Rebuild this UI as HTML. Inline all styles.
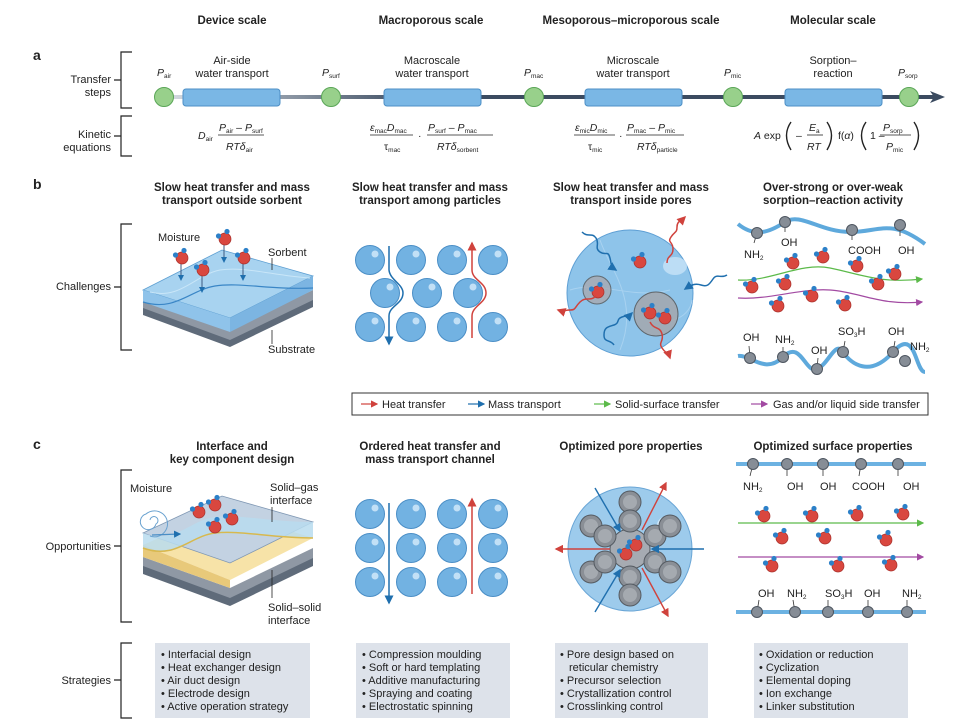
<!DOCTYPE html>
<html><head><meta charset="utf-8"><style>
html,body{margin:0;padding:0;background:#fff}
svg{display:block}
text{font-family:"Liberation Sans",sans-serif;fill:#222}
.h{font-weight:bold;font-size:11.5px;text-anchor:middle}
.l{font-size:11px}
.m{font-size:11px;text-anchor:middle}
.e{font-size:10.5px;font-style:italic}
.s{font-size:6.5px;font-style:normal}
.st{font-size:11px}
</style></head><body>
<svg width="957" height="724" viewBox="0 0 957 724" xmlns="http://www.w3.org/2000/svg">
<defs>
<linearGradient id="lg" x1="155" x2="420" y1="0" y2="0" gradientUnits="userSpaceOnUse"><stop offset="0" stop-color="#dde2e8"/><stop offset="1" stop-color="#3b4b60"/></linearGradient>
<g id="w"><circle r="6" fill="#d9473f" stroke="#a8302b" stroke-width="0.7"/><circle cx="-6.5" cy="-3" r="2.6" fill="#2c80c8"/><circle cx="2" cy="-7.5" r="2.6" fill="#2c80c8"/></g>
<g id="p"><circle r="14.5" fill="#72b2e2" stroke="#4a8ec6"/><circle cx="5" cy="-6" r="3.5" fill="#c2e0f6"/></g>
<g id="po"><circle r="11" fill="#8a8f96" stroke="#555b62"/><circle r="7" fill="#a5aab0"/></g>
<g id="n"><circle r="5.5" fill="#868d96" stroke="#4e5660"/></g>
<marker id="ar" markerWidth="6" markerHeight="6" refX="5" refY="3" orient="auto"><path d="M0,0 L6,3 L0,6 z" fill="#d0423c"/></marker>
<marker id="ab" markerWidth="6" markerHeight="6" refX="5" refY="3" orient="auto"><path d="M0,0 L6,3 L0,6 z" fill="#1f6fae"/></marker>
<marker id="ag" markerWidth="6" markerHeight="6" refX="5" refY="3" orient="auto"><path d="M0,0 L6,3 L0,6 z" fill="#5cba4a"/></marker>
<marker id="ap" markerWidth="6" markerHeight="6" refX="5" refY="3" orient="auto"><path d="M0,0 L6,3 L0,6 z" fill="#a24aa2"/></marker>
</defs>

<text class="h" x="232" y="24">Device scale</text>
<text class="h" x="431" y="24">Macroporous scale</text>
<text class="h" x="631" y="24">Mesoporous–microporous scale</text>
<text class="h" x="833" y="24">Molecular scale</text>

<text x="33" y="60" font-weight="bold" font-size="14">a</text>
<text x="33" y="189" font-weight="bold" font-size="14">b</text>
<text x="33" y="449" font-weight="bold" font-size="14">c</text>

<g stroke="#222" stroke-width="1.2" fill="none">
<path d="M132,52 H121 V108 H132 M121,80 H114"/>
<path d="M132,116 H121 V156 H132 M121,136 H114"/>
<path d="M132,224 H121 V350 H132 M121,287 H114"/>
<path d="M132,470 H121 V622 H132 M121,546 H114"/>
<path d="M132,643 H121 V718 H132 M121,680 H114"/>
</g>
<g class="l" text-anchor="end">
<text x="111" y="83">Transfer</text><text x="111" y="96">steps</text>
<text x="111" y="138">Kinetic</text><text x="111" y="151">equations</text>
<text x="111" y="290">Challenges</text>
<text x="111" y="550">Opportunities</text>
<text x="111" y="684">Strategies</text>
</g>

<line x1="155" y1="97" x2="934" y2="97" stroke="url(#lg)" stroke-width="4"/>
<path d="M930,91 L945,97 L930,103 L934,97z" fill="#3b4b60"/>
<g fill="#7ab7e5" stroke="#4d8fc6" stroke-width="1">
<rect x="183" y="89" width="97" height="17" rx="3"/>
<rect x="384" y="89" width="97" height="17" rx="3"/>
<rect x="585" y="89" width="97" height="17" rx="3"/>
<rect x="785" y="89" width="97" height="17" rx="3"/>
</g>
<g fill="#98d08b" stroke="#5aa657" stroke-width="1">
<circle cx="164" cy="97" r="9.5"/><circle cx="331" cy="97" r="9.5"/><circle cx="534" cy="97" r="9.5"/><circle cx="733" cy="97" r="9.5"/><circle cx="909" cy="97" r="9.5"/>
</g>
<g class="m">
<text x="232" y="64">Air-side</text><text x="232" y="77">water transport</text>
<text x="432" y="64">Macroscale</text><text x="432" y="77">water transport</text>
<text x="633" y="64">Microscale</text><text x="633" y="77">water transport</text>
<text x="833" y="64">Sorption–</text><text x="833" y="77">reaction</text>
</g>
<g class="e">
<text x="157" y="76">P<tspan class="s" dy="2">air</tspan></text>
<text x="322" y="76">P<tspan class="s" dy="2">surf</tspan></text>
<text x="524" y="76">P<tspan class="s" dy="2">mac</tspan></text>
<text x="724" y="76">P<tspan class="s" dy="2">mic</tspan></text>
<text x="898" y="76">P<tspan class="s" dy="2">sorp</tspan></text>
</g>

<g stroke="#222" stroke-width="0.8">
<line x1="218" y1="135" x2="264" y2="135"/>
<line x1="370" y1="135" x2="413" y2="135"/>
<line x1="427" y1="135" x2="493" y2="135"/>
<line x1="574" y1="135" x2="615" y2="135"/>
<line x1="626" y1="135" x2="684" y2="135"/>
<line x1="807" y1="135" x2="823" y2="135"/>
<line x1="880" y1="135" x2="911" y2="135"/>
</g>
<g fill="none" stroke="#222" stroke-width="1.4">
<path d="M791,122 Q782,135 791,150"/><path d="M827,122 Q836,135 827,150"/>
<path d="M866,122 Q857,135 866,150"/><path d="M914,122 Q923,135 914,150"/>
</g>
<g class="e">
<text x="198" y="139">D<tspan class="s" dy="2">air</tspan></text>
<text x="219" y="131">P<tspan class="s" dy="2">air</tspan><tspan dy="-2" font-style="normal"> – </tspan>P<tspan class="s" dy="2">surf</tspan></text>
<text x="226" y="150">RTδ<tspan class="s" dy="2">air</tspan></text>

<text x="370" y="131">ε<tspan class="s" dy="2">mac</tspan><tspan dy="-2">D</tspan><tspan class="s" dy="2">mac</tspan></text>
<text x="384" y="150" font-style="normal">τ<tspan class="s" dy="2">mac</tspan></text>
<text x="418" y="139" font-style="normal">·</text>
<text x="428" y="131">P<tspan class="s" dy="2">surf</tspan><tspan dy="-2" font-style="normal"> – </tspan>P<tspan class="s" dy="2">mac</tspan></text>
<text x="437" y="150">RTδ<tspan class="s" dy="2">sorbent</tspan></text>

<text x="575" y="131">ε<tspan class="s" dy="2">mic</tspan><tspan dy="-2">D</tspan><tspan class="s" dy="2">mic</tspan></text>
<text x="588" y="150" font-style="normal">τ<tspan class="s" dy="2">mic</tspan></text>
<text x="619" y="139" font-style="normal">·</text>
<text x="627" y="131">P<tspan class="s" dy="2">mac</tspan><tspan dy="-2" font-style="normal"> – </tspan>P<tspan class="s" dy="2">mic</tspan></text>
<text x="637" y="150">RTδ<tspan class="s" dy="2">particle</tspan></text>

<text x="754" y="139" font-style="normal"><tspan font-style="italic">A</tspan> exp</text>
<text x="796" y="139" font-style="normal">–</text>
<text x="809" y="131">E<tspan class="s" dy="2">a</tspan></text>
<text x="807" y="150">RT</text>
<text x="838" y="139" font-style="normal">f(<tspan font-style="italic">α</tspan>)</text>
<text x="870" y="139" font-style="normal">1 –</text>
<text x="883" y="131">P<tspan class="s" dy="2">sorp</tspan></text>
<text x="886" y="150">P<tspan class="s" dy="2">mic</tspan></text>
</g>

<g class="h" font-size="10.5">
<text x="232" y="191">Slow heat transfer and mass</text><text x="232" y="204">transport outside sorbent</text>
<text x="430" y="191">Slow heat transfer and mass</text><text x="430" y="204">transport among particles</text>
<text x="631" y="191">Slow heat transfer and mass</text><text x="631" y="204">transport inside pores</text>
<text x="833" y="191">Over-strong or over-weak</text><text x="833" y="204">sorption–reaction activity</text>
</g>

<polygon points="143,306 230,338 313,298 313,307 230,347 143,315" fill="#5f6b7a"/>
<polygon points="143,300 230,330 313,290 313,300 230,340 143,308" fill="#8f98a4"/>
<polygon points="143,300 222,262 313,288 230,330" fill="#b7bfc9"/>
<polygon points="143,290 222,250 313,276 230,318" fill="#a8d3f0" stroke="#5d9fd2" stroke-width="0.8"/>
<polygon points="143,290 230,318 230,332 143,302" fill="#8fc3ea"/>
<polygon points="230,318 313,276 313,290 230,332" fill="#7cb5e2"/>
<path d="M143,302 C175,312 190,290 215,286 C240,282 270,290 313,288" stroke="#3a86c6" fill="none" stroke-width="1.2"/>
<path d="M150,292 C180,300 195,275 220,270 C245,266 275,276 310,278" stroke="#c9e6f8" fill="none" stroke-width="1"/>
<g stroke="#3b5a80" stroke-width="1" marker-end="url(#ab)">
<line x1="181" y1="262" x2="181" y2="280"/><line x1="202" y1="275" x2="202" y2="292"/><line x1="224" y1="245" x2="224" y2="262"/><line x1="243" y1="264" x2="243" y2="280"/>
</g>
<use href="#w" transform="translate(182,258)"/><use href="#w" transform="translate(203,270)"/><use href="#w" transform="translate(225,239)"/><use href="#w" transform="translate(244,258)"/>
<line x1="272" y1="258" x2="272" y2="270" stroke="#222" stroke-width="0.8"/>
<line x1="272" y1="330" x2="272" y2="344" stroke="#222" stroke-width="0.8"/>
<text class="l" x="158" y="241">Moisture</text>
<text class="l" x="268" y="256">Sorbent</text>
<text class="l" x="268" y="353">Substrate</text>

<use href="#p" transform="translate(370,260)"/><use href="#p" transform="translate(411,260)"/><use href="#p" transform="translate(452,260)"/><use href="#p" transform="translate(493,260)"/>
<use href="#p" transform="translate(385,293)"/><use href="#p" transform="translate(427,293)"/><use href="#p" transform="translate(468,293)"/>
<use href="#p" transform="translate(370,327)"/><use href="#p" transform="translate(411,327)"/><use href="#p" transform="translate(452,327)"/><use href="#p" transform="translate(493,327)"/>
<path d="M389,246 V270 C390,280 403,284 403,293 C403,304 389,306 389,316 V344" stroke="#1f6fae" stroke-width="1.5" fill="none" marker-end="url(#ab)"/>
<path d="M472,338 V316 C472,306 486,303 486,293 C486,282 472,280 472,270 V243" stroke="#d0423c" stroke-width="1.5" fill="none" marker-end="url(#ar)"/>

<circle cx="630" cy="293" r="63" fill="#8ec4ea" stroke="#5e9fd4" stroke-width="1"/>
<ellipse cx="675" cy="266" rx="12" ry="9" fill="#c8e4f7" opacity="0.8"/>
<path d="M570,290 C600,280 630,300 670,290 M600,240 C610,270 640,300 620,350 M640,310 C660,330 690,320 692,300" stroke="#a8d2f0" fill="none"/>
<circle cx="597" cy="290" r="14" fill="#a9a9b0" stroke="#555" opacity="0.8"/>
<circle cx="656" cy="314" r="22" fill="#a4a7ae" stroke="#555" opacity="0.85"/>
<use href="#w" transform="translate(598,292)"/><use href="#w" transform="translate(650,313)"/><use href="#w" transform="translate(665,318)"/><use href="#w" transform="translate(640,262)"/>
<g fill="none" stroke-width="1.5">
<path d="M582,232 c6,6 10,0 14,6 s-2,10 4,14 s8,-2 10,6 s0,8 6,12" stroke="#1f6fae" marker-end="url(#ab)"/>
<path d="M727,275 c-6,4 -10,-2 -14,4 s-6,8 -12,6 s-10,0 -16,4" stroke="#1f6fae" marker-end="url(#ab)"/>
<path d="M614,345 c-4,-6 -10,-2 -10,-10 s4,-8 10,-10 s2,-6 8,-8 s6,0 10,-4" stroke="#1f6fae" marker-end="url(#ab)"/>
<path d="M667,263 c0,-8 6,-6 6,-14 s-6,-6 -2,-12 s6,-4 6,-10 s4,-6 8,-10" stroke="#d0423c" marker-end="url(#ar)"/>
<path d="M596,296 c-6,6 -10,0 -16,6 s-4,8 -10,8 s-6,2 -12,0" stroke="#d0423c" marker-end="url(#ar)"/>
<path d="M650,322 c4,8 10,4 12,12 s-4,8 0,14 s6,4 8,10" stroke="#d0423c" marker-end="url(#ar)"/>
</g>

<path d="M738,224 C755,238 770,232 785,222 S820,232 850,232 S890,218 925,244" stroke="#5ea9dc" stroke-width="4" fill="none"/>
<g stroke="#333" stroke-width="0.8"><line x1="757" y1="233" x2="754" y2="243"/><line x1="785" y1="222" x2="785" y2="232"/><line x1="852" y1="230" x2="852" y2="240"/><line x1="900" y1="225" x2="900" y2="236"/></g>
<use href="#n" transform="translate(757,233)"/><use href="#n" transform="translate(785,222)"/><use href="#n" transform="translate(852,230)"/><use href="#n" transform="translate(900,225)"/>
<g class="l" font-size="10"><text x="744" y="258">NH<tspan class="s" dy="2">2</tspan></text><text x="781" y="246">OH</text><text x="848" y="254">COOH</text><text x="898" y="254">OH</text></g>
<path d="M738,280 C770,282 800,262 830,268 S880,284 922,279" stroke="#5cba4a" stroke-width="1.2" fill="none" marker-end="url(#ag)"/>
<path d="M738,298 C770,300 800,288 830,290 S880,306 922,302" stroke="#a24aa2" stroke-width="1.2" fill="none" marker-end="url(#ap)"/>
<use href="#w" transform="translate(793,263)"/><use href="#w" transform="translate(823,257)"/><use href="#w" transform="translate(857,266)"/><use href="#w" transform="translate(895,274)"/><use href="#w" transform="translate(752,287)"/><use href="#w" transform="translate(785,284)"/><use href="#w" transform="translate(878,284)"/><use href="#w" transform="translate(812,296)"/><use href="#w" transform="translate(778,306)"/><use href="#w" transform="translate(845,305)"/>
<path d="M738,356 C750,354 765,375 783,357 S805,374 817,369 S835,340 843,352 S870,378 893,352 S915,372 925,372" stroke="#5ea9dc" stroke-width="4" fill="none"/>
<g stroke="#333" stroke-width="0.8"><line x1="750" y1="358" x2="749" y2="346"/><line x1="783" y1="357" x2="783" y2="347"/><line x1="817" y1="369" x2="818" y2="358"/><line x1="843" y1="352" x2="845" y2="341"/><line x1="893" y1="352" x2="895" y2="341"/></g>
<use href="#n" transform="translate(750,358)"/><use href="#n" transform="translate(783,357)"/><use href="#n" transform="translate(817,369)"/><use href="#n" transform="translate(843,352)"/><use href="#n" transform="translate(893,352)"/><use href="#n" transform="translate(905,361)"/>
<g class="l" font-size="10"><text x="743" y="341">OH</text><text x="775" y="343">NH<tspan class="s" dy="2">2</tspan></text><text x="811" y="354">OH</text><text x="838" y="335">SO<tspan class="s" dy="2">3</tspan><tspan dy="-2">H</tspan></text><text x="888" y="335">OH</text><text x="910" y="350">NH<tspan class="s" dy="2">2</tspan></text></g>

<rect x="352" y="393" width="576" height="22" fill="#fff" stroke="#333" stroke-width="1"/>
<g stroke-width="1.2"><line x1="361" y1="404" x2="377" y2="404" stroke="#d0423c" marker-end="url(#ar)"/><line x1="468" y1="404" x2="484" y2="404" stroke="#1f6fae" marker-end="url(#ab)"/><line x1="594" y1="404" x2="610" y2="404" stroke="#5cba4a" marker-end="url(#ag)"/><line x1="751" y1="404" x2="767" y2="404" stroke="#a24aa2" marker-end="url(#ap)"/></g>
<g class="l"><text x="382" y="408">Heat transfer</text><text x="488" y="408">Mass transport</text><text x="615" y="408">Solid-surface transfer</text><text x="773" y="408">Gas and/or liquid side transfer</text></g>

<g class="h" font-size="10.5">
<text x="232" y="450">Interface and</text><text x="232" y="463">key component design</text>
<text x="430" y="450">Ordered heat transfer and</text><text x="430" y="463">mass transport channel</text>
<text x="631" y="450">Optimized pore properties</text>
<text x="833" y="450">Optimized surface properties</text>
</g>

<polygon points="143,565 230,597 313,557 313,566 230,606 143,574" fill="#5f6b7a"/>
<polygon points="143,557 230,588 313,548 313,558 230,598 143,566" fill="#8f98a4"/>
<polygon points="143,545 222,510 313,538 230,580" fill="#f7e3a8"/>
<polygon points="143,545 230,580 230,588 143,557" fill="#e8c97a"/>
<polygon points="143,533 222,496 313,522 230,563" fill="#c3d2e2" stroke="#7f97b3" stroke-width="0.8"/>
<path d="M143,533 C175,545 190,520 215,517 C240,514 270,522 313,522 V538 C270,538 240,532 215,534 C190,538 175,560 143,548 Z" fill="#b8dcef" opacity="0.85"/>
<path d="M143,548 C175,560 190,536 215,533 C240,530 270,538 313,538" stroke="#d8b84e" fill="none" stroke-width="1.5"/>
<path d="M150,520 a4,4 0 1 1 6,4 a8,8 0 1 1 -10,-10 a13,13 0 1 1 4,22" stroke="#6aa2d0" fill="none" stroke-width="1"/>
<line x1="152" y1="535" x2="180" y2="534" stroke="#4a8ec6" stroke-width="1.2" marker-end="url(#ab)"/>
<use href="#w" transform="translate(199,512)"/><use href="#w" transform="translate(215,505)"/><use href="#w" transform="translate(232,519)"/><use href="#w" transform="translate(215,527)"/>
<line x1="272" y1="507" x2="272" y2="522" stroke="#222" stroke-width="0.8"/>
<line x1="272" y1="570" x2="272" y2="598" stroke="#222" stroke-width="0.8"/>
<g class="l"><text x="130" y="492">Moisture</text><text x="270" y="491">Solid–gas</text><text x="270" y="504">interface</text><text x="268" y="611">Solid–solid</text><text x="268" y="624">interface</text></g>

<use href="#p" transform="translate(370,514)"/><use href="#p" transform="translate(411,514)"/><use href="#p" transform="translate(452,514)"/><use href="#p" transform="translate(493,514)"/>
<use href="#p" transform="translate(370,548)"/><use href="#p" transform="translate(411,548)"/><use href="#p" transform="translate(452,548)"/><use href="#p" transform="translate(493,548)"/>
<use href="#p" transform="translate(370,582)"/><use href="#p" transform="translate(411,582)"/><use href="#p" transform="translate(452,582)"/><use href="#p" transform="translate(493,582)"/>
<line x1="389" y1="503" x2="389" y2="603" stroke="#1f6fae" stroke-width="1.5" marker-end="url(#ab)"/>
<line x1="472" y1="594" x2="472" y2="499" stroke="#d0423c" stroke-width="1.5" marker-end="url(#ar)"/>

<circle cx="630" cy="549" r="62" fill="#9dcbec" stroke="#6aa6d6"/>
<ellipse cx="668" cy="525" rx="11" ry="9" fill="#cfe7f8"/>
<circle cx="630" cy="549" r="20" fill="#a6abb2" stroke="#555b62"/>
<use href="#po" transform="translate(630,502)"/><use href="#po" transform="translate(630,521)"/><use href="#po" transform="translate(630,577)"/><use href="#po" transform="translate(630,595)"/>
<use href="#po" transform="translate(591,526)"/><use href="#po" transform="translate(605,536)"/><use href="#po" transform="translate(655,536)"/><use href="#po" transform="translate(670,526)"/>
<use href="#po" transform="translate(591,572)"/><use href="#po" transform="translate(605,562)"/><use href="#po" transform="translate(655,562)"/><use href="#po" transform="translate(670,572)"/>
<use href="#w" transform="translate(626,554)"/><use href="#w" transform="translate(636,545)"/>
<g stroke-width="1.4">
<line x1="595" y1="488" x2="620" y2="531" stroke="#1f6fae" marker-end="url(#ab)"/>
<line x1="704" y1="549" x2="652" y2="549" stroke="#1f6fae" marker-end="url(#ab)"/>
<line x1="595" y1="612" x2="620" y2="570" stroke="#1f6fae" marker-end="url(#ab)"/>
<line x1="642" y1="530" x2="666" y2="483" stroke="#d0423c" marker-end="url(#ar)"/>
<line x1="610" y1="549" x2="556" y2="549" stroke="#d0423c" marker-end="url(#ar)"/>
<line x1="642" y1="568" x2="668" y2="616" stroke="#d0423c" marker-end="url(#ar)"/>
</g>

<line x1="736" y1="464" x2="926" y2="464" stroke="#6cb2e2" stroke-width="4"/>
<g stroke="#333" stroke-width="0.8"><line x1="753" y1="464" x2="750" y2="476"/><line x1="787" y1="464" x2="787" y2="476"/><line x1="823" y1="464" x2="823" y2="476"/><line x1="861" y1="464" x2="859" y2="476"/><line x1="898" y1="464" x2="898" y2="476"/></g>
<use href="#n" transform="translate(753,464)"/><use href="#n" transform="translate(787,464)"/><use href="#n" transform="translate(823,464)"/><use href="#n" transform="translate(861,464)"/><use href="#n" transform="translate(898,464)"/>
<g class="l" font-size="10"><text x="743" y="490">NH<tspan class="s" dy="2">2</tspan></text><text x="787" y="490">OH</text><text x="820" y="490">OH</text><text x="852" y="490">COOH</text><text x="903" y="490">OH</text></g>
<line x1="738" y1="523" x2="923" y2="523" stroke="#5cba4a" stroke-width="1.2" marker-end="url(#ag)"/>
<line x1="738" y1="557" x2="923" y2="557" stroke="#a24aa2" stroke-width="1.2" marker-end="url(#ap)"/>
<use href="#w" transform="translate(764,516)"/><use href="#w" transform="translate(812,516)"/><use href="#w" transform="translate(857,515)"/><use href="#w" transform="translate(903,514)"/>
<use href="#w" transform="translate(782,538)"/><use href="#w" transform="translate(825,538)"/><use href="#w" transform="translate(886,540)"/>
<use href="#w" transform="translate(772,566)"/><use href="#w" transform="translate(838,566)"/><use href="#w" transform="translate(891,565)"/>
<line x1="736" y1="612" x2="926" y2="612" stroke="#6cb2e2" stroke-width="4"/>
<g stroke="#333" stroke-width="0.8"><line x1="757" y1="612" x2="759" y2="600"/><line x1="795" y1="612" x2="793" y2="600"/><line x1="828" y1="612" x2="828" y2="600"/><line x1="868" y1="612" x2="868" y2="600"/><line x1="907" y1="612" x2="907" y2="600"/></g>
<use href="#n" transform="translate(757,612)"/><use href="#n" transform="translate(795,612)"/><use href="#n" transform="translate(828,612)"/><use href="#n" transform="translate(868,612)"/><use href="#n" transform="translate(907,612)"/>
<g class="l" font-size="10"><text x="758" y="597">OH</text><text x="787" y="597">NH<tspan class="s" dy="2">2</tspan></text><text x="825" y="597">SO<tspan class="s" dy="2">3</tspan><tspan dy="-2">H</tspan></text><text x="864" y="597">OH</text><text x="902" y="597">NH<tspan class="s" dy="2">2</tspan></text></g>

<g fill="#dde2ea">
<rect x="155" y="643" width="155" height="75"/><rect x="356" y="643" width="154" height="75"/><rect x="555" y="643" width="153" height="75"/><rect x="754" y="643" width="154" height="75"/>
</g>
<g class="st">
<text x="161" y="658">• Interfacial design</text><text x="161" y="671">• Heat exchanger design</text><text x="161" y="684">• Air duct design</text><text x="161" y="697">• Electrode design</text><text x="161" y="710">• Active operation strategy</text>
<text x="362" y="658">• Compression moulding</text><text x="362" y="671">• Soft or hard templating</text><text x="362" y="684">• Additive manufacturing</text><text x="362" y="697">• Spraying and coating</text><text x="362" y="710">• Electrostatic spinning</text>
<text x="560" y="658">• Pore design based on</text><text x="569" y="671">reticular chemistry</text><text x="560" y="684">• Precursor selection</text><text x="560" y="697">• Crystallization control</text><text x="560" y="710">• Crosslinking control</text>
<text x="759" y="658">• Oxidation or reduction</text><text x="759" y="671">• Cyclization</text><text x="759" y="684">• Elemental doping</text><text x="759" y="697">• Ion exchange</text><text x="759" y="710">• Linker substitution</text>
</g>
</svg>
</body></html>
